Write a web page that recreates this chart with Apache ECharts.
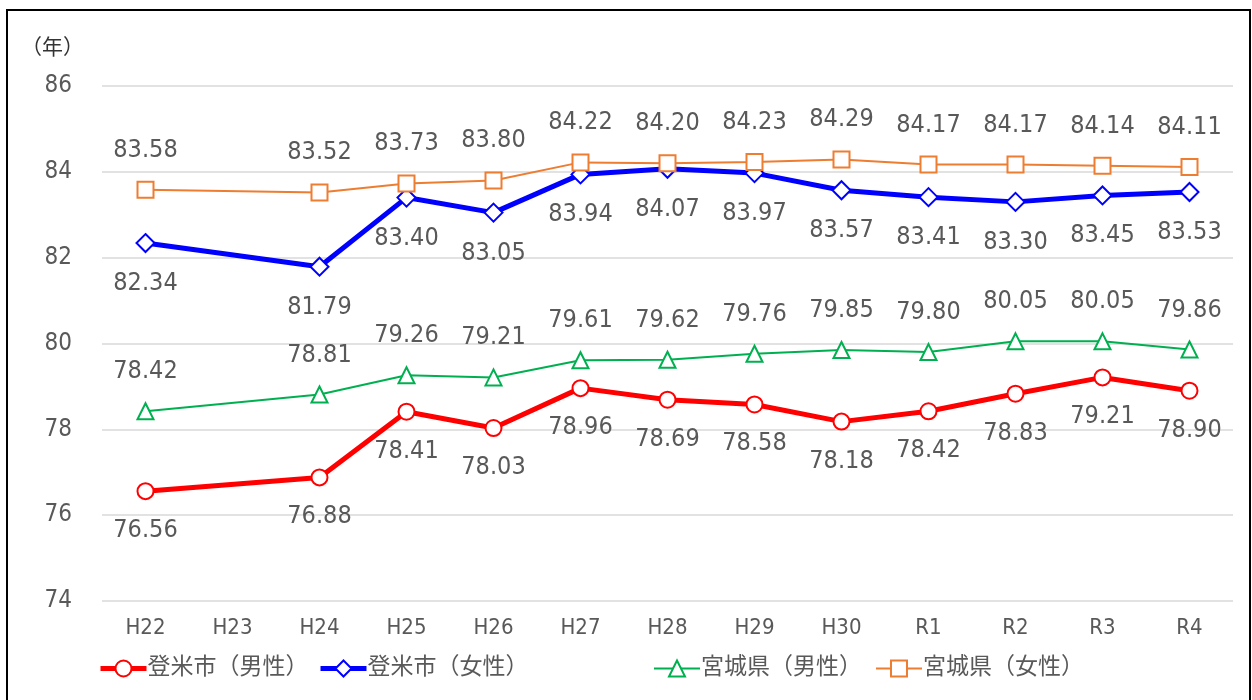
<!DOCTYPE html>
<html>
<head>
<meta charset="utf-8">
<script src="https://cdn.jsdelivr.net/npm/echarts@6/dist/echarts.min.js"></script>
<style>
html,body{margin:0;padding:0;background:#fff;}
#main{width:1252px;height:700px;}
</style>
</head>
<body>
<div id="main"></div>
<script>
var years = ['H22','H23','H24','H25','H26','H27','H28','H29','H30','R1','R2','R3','R4'];
var tomeMale = [76.56, null, 76.88, 78.41, 78.03, 78.96, 78.69, 78.58, 78.18, 78.42, 78.83, 79.21, 78.90];
var tomeFemale = [82.34, null, 81.79, 83.40, 83.05, 83.94, 84.07, 83.97, 83.57, 83.41, 83.30, 83.45, 83.53];
var miyagiMale = [78.42, null, 78.81, 79.26, 79.21, 79.61, 79.62, 79.76, 79.85, 79.80, 80.05, 80.05, 79.86];
var miyagiFemale = [83.58, null, 83.52, 83.73, 83.80, 84.22, 84.20, 84.23, 84.29, 84.17, 84.17, 84.14, 84.11];
var seriesNames = ['登米市（男性）', '登米市（女性）', '宮城県（男性）', '宮城県（女性）'];

var font = "'Liberation Sans Narrow', 'DejaVu Sans Condensed', 'Noto Sans CJK JP', sans-serif";
var txt = '#595959';

function fmt(p) { return p.value == null ? '' : p.value.toFixed(2); }

function makeSeries(name, data, color, width, symbol, size, pos) {
    return {
        name: name,
        type: 'line',
        data: data,
        connectNulls: true,
        symbol: symbol,
        symbolSize: size,
        showAllSymbol: true,
        lineStyle: { color: color, width: width },
        itemStyle: { color: '#fff', borderColor: color, borderWidth: 2 },
        label: {
            show: true,
            position: pos,
            distance: 18,
            formatter: fmt,
            color: txt,
            fontSize: 25,
            fontFamily: font
        },
        emphasis: { disabled: true }
    };
}

// one legend per item so each can sit where the original puts it
function makeLegend(name, left, lineWidth) {
    return {
        left: left,
        top: 657,
        padding: 0,
        itemWidth: 46,
        itemHeight: 20,
        textStyle: { color: txt, fontSize: 23, fontFamily: font, padding: [0, 0, 0, -4] },
        data: [{ name: name, lineStyle: { width: lineWidth } }]
    };
}

var myChart = echarts.init(document.getElementById('main'));
myChart.setOption({
    animation: false,
    textStyle: { fontFamily: font },
    grid: { left: 102, right: 19, top: 86, bottom: 99 },
    graphic: [{
        type: 'rect',
        shape: { x: 7, y: 10, width: 1243, height: 700 },
        style: { fill: 'none', stroke: '#000', lineWidth: 2 }
    }],
    legend: [
        makeLegend(seriesNames[0], 98, 5),
        makeLegend(seriesNames[1], 318, 5),
        makeLegend(seriesNames[2], 653, 2),
        makeLegend(seriesNames[3], 875, 2)
    ],
    xAxis: {
        type: 'category',
        data: years,
        boundaryGap: true,
        axisLine: { show: false },
        axisTick: { show: false },
        axisLabel: { color: txt, fontSize: 22, margin: 16, fontFamily: font }
    },
    yAxis: {
        type: 'value',
        min: 74,
        max: 86,
        interval: 2,
        name: '（年）',
        nameGap: 27,
        nameTextStyle: { color: '#333', fontSize: 21, align: 'right', padding: [0, 18, 0, 0], fontFamily: font },
        axisLine: { show: false },
        axisTick: { show: false },
        axisLabel: { color: txt, fontSize: 24, margin: 30, fontFamily: font },
        splitLine: { lineStyle: { color: '#D9D9D9', width: 1.5 } }
    },
    series: [
        makeSeries(seriesNames[0], tomeMale, '#FF0000', 5, 'circle', 16, 'bottom'),
        makeSeries(seriesNames[1], tomeFemale, '#0000FF', 5, 'diamond', 18, 'bottom'),
        makeSeries(seriesNames[2], miyagiMale, '#00B050', 2, 'triangle', 16, 'top'),
        makeSeries(seriesNames[3], miyagiFemale, '#ED7D31', 2, 'rect', 16, 'top')
    ]
});
</script>
</body>
</html>
